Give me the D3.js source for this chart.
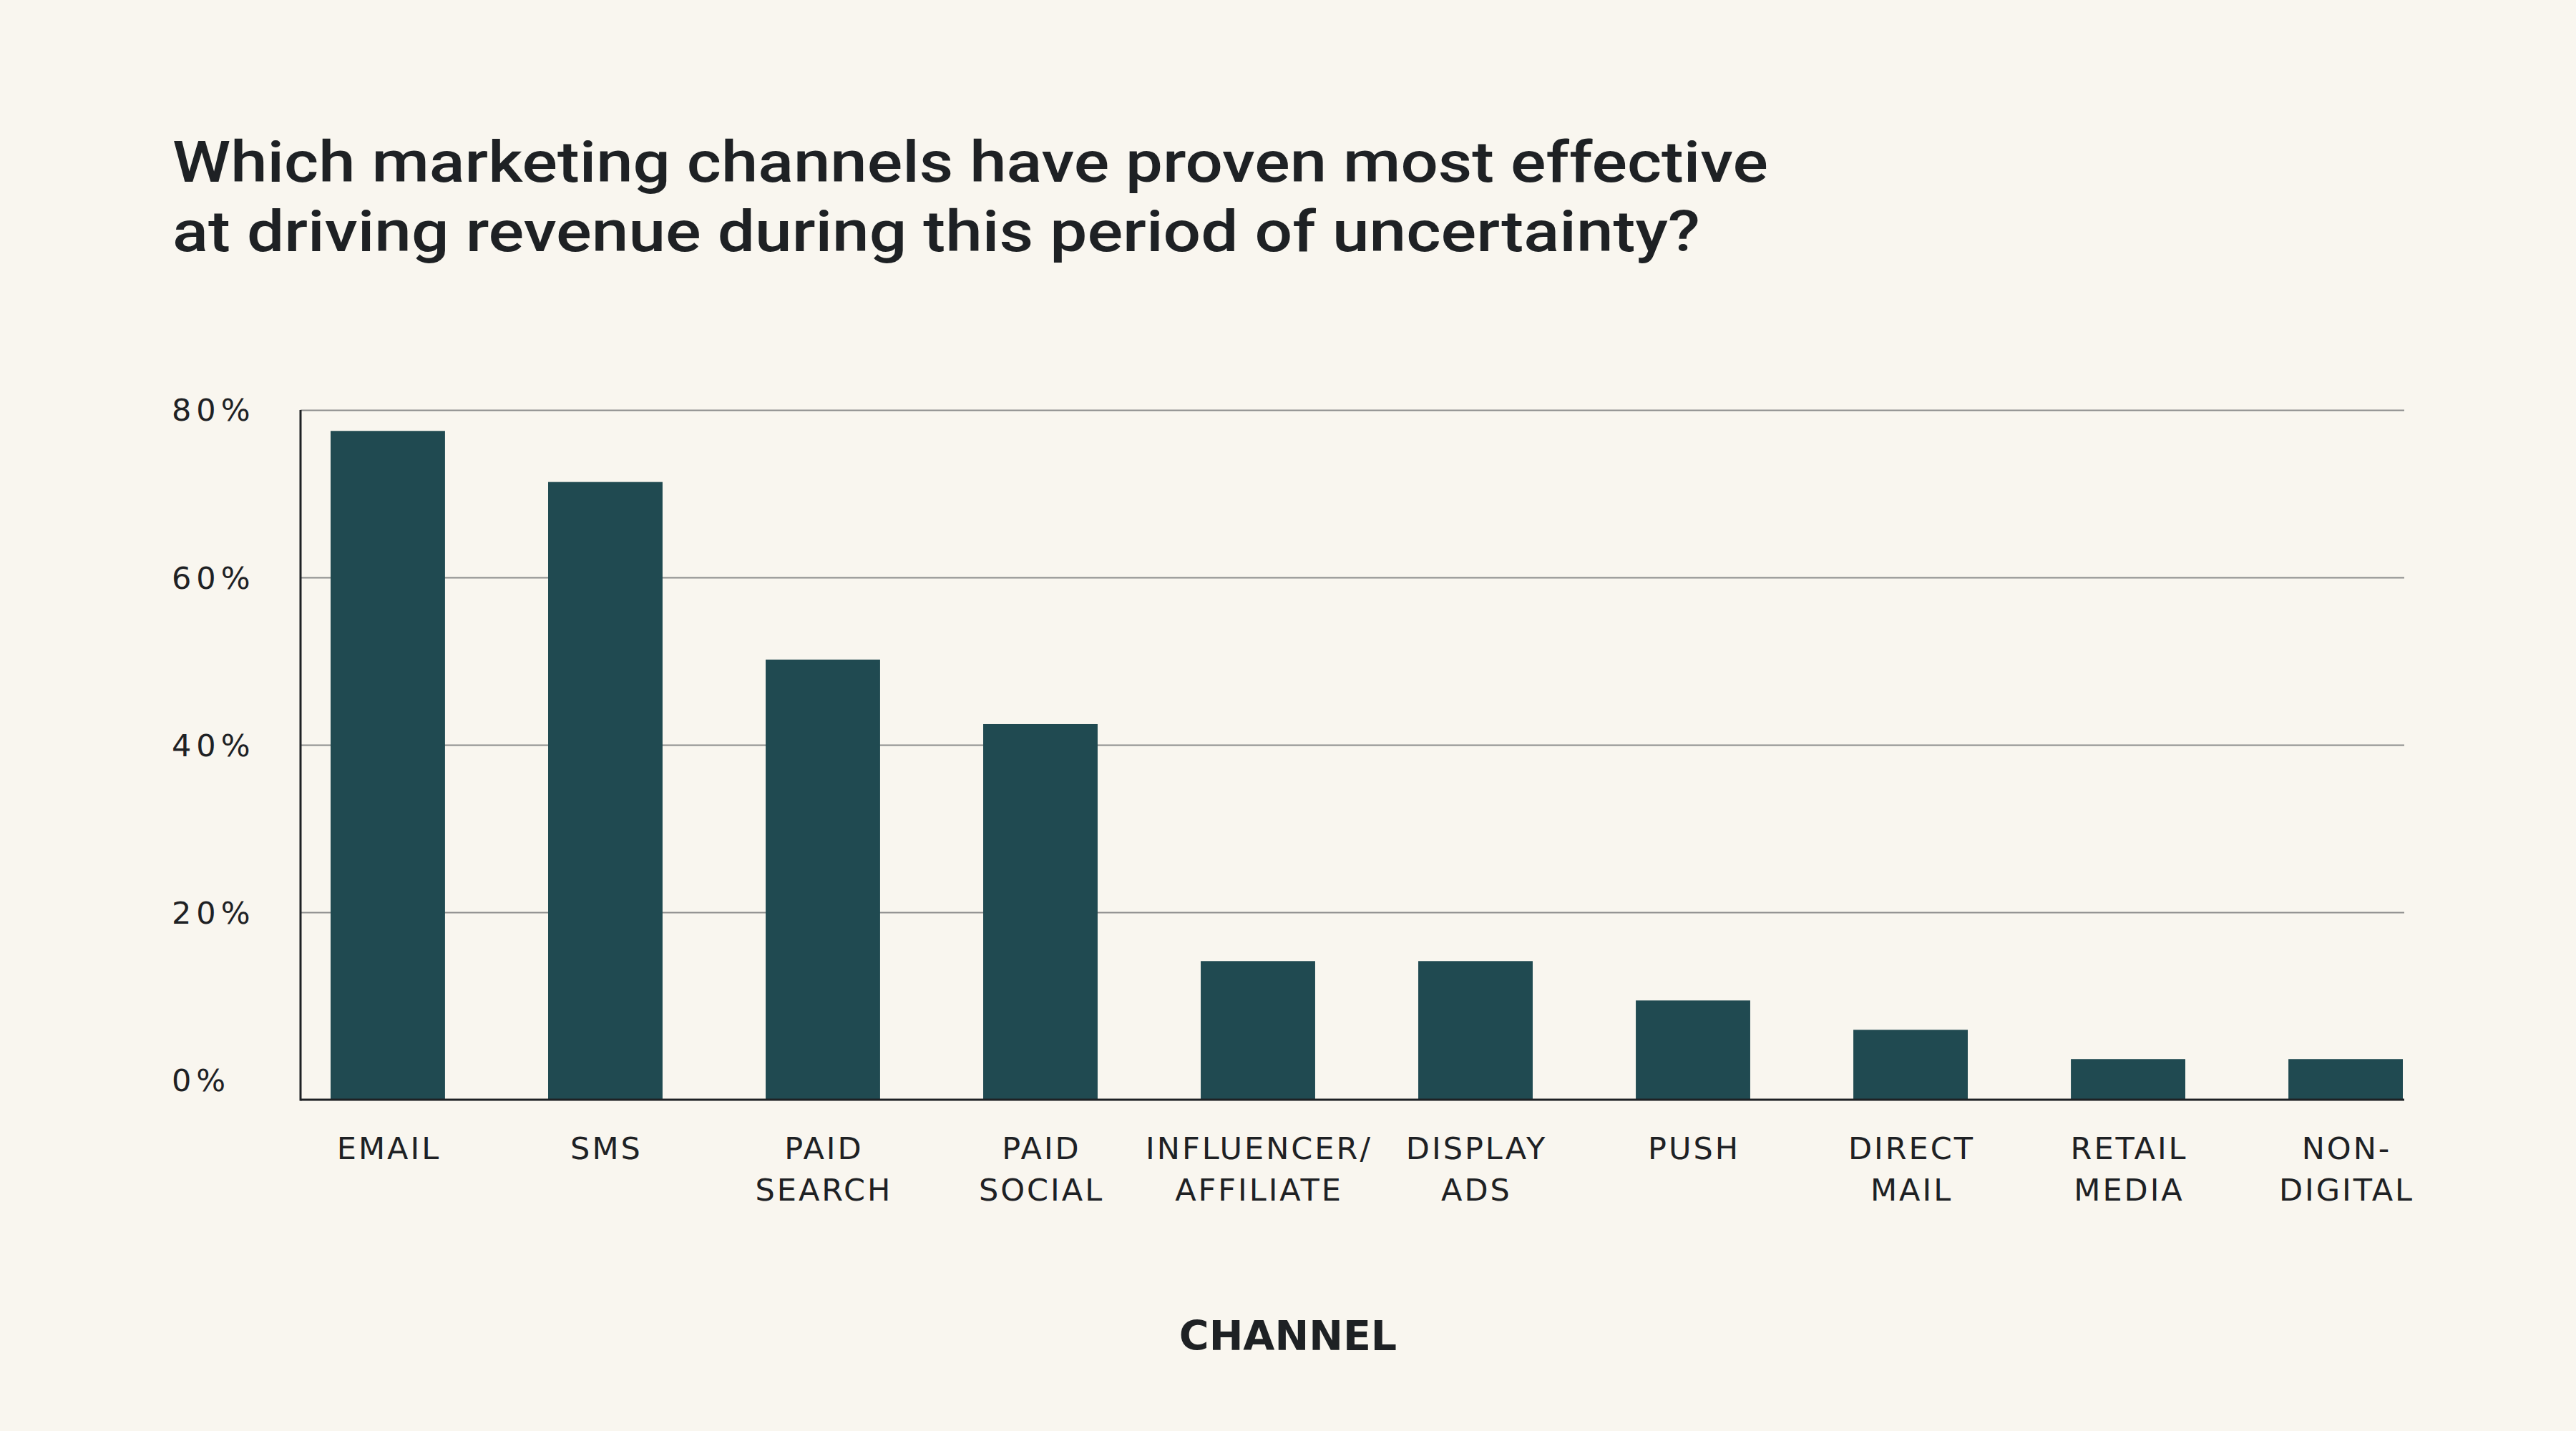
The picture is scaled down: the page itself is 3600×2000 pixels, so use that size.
<!DOCTYPE html>
<html lang="en">
<head>
  <meta charset="UTF-8">
  <title>Marketing Channels Bar Chart</title>
  <script src="https://d3js.org/d3.v7.min.js"></script>
  <style>
    body {
      margin: 0;
      background-color: #f9f6ef;
    }
    svg {
      display: block;
      font-family: Roboto, "Noto Sans", sans-serif;
    }
    .grid line {
      stroke: #8c8c8c;
      stroke-width: 2px;
    }
    .axis-line {
      stroke: #1e2124;
      stroke-width: 3px;
    }
    .tick-label, .cat-label {
      fill: #1e2124;
      font-family: "DejaVu Sans", sans-serif;
      font-size: 43px;
    }
    .tick-label {
      letter-spacing: 7px;
    }
    .cat-label {
      letter-spacing: 3px;
    }
  </style>
</head>
<body>
  <svg id="chart" width="3600" height="2000"></svg>

  <script>
    // Data
    const channels = ["EMAIL", "SMS", "PAID SEARCH", "PAID SOCIAL", "INFLUENCER/ AFFILIATE",
                      "DISPLAY ADS", "PUSH", "DIRECT MAIL", "RETAIL MEDIA", "NON- DIGITAL"];
    const labelLines = [["EMAIL"], ["SMS"], ["PAID", "SEARCH"], ["PAID", "SOCIAL"],
                        ["INFLUENCER/", "AFFILIATE"], ["DISPLAY", "ADS"], ["PUSH"],
                        ["DIRECT", "MAIL"], ["RETAIL", "MEDIA"], ["NON-", "DIGITAL"]];
    const shares = [77.5, 71.4, 50.2, 42.5, 14.2, 14.2, 9.5, 6.0, 2.5, 2.5];
    const yTicks = [0, 20, 40, 60, 80];
    const titleLines = ["Which marketing channels have proven most effective",
                        "at driving revenue during this period of uncertainty?"];
    const axisTitle = "CHANNEL";

    const svg = d3.select("#chart");

    // plot frame
    const plotLeft = 420, plotRight = 3360, plotTop = 573, plotBottom = 1537;
    const yMin = -2.35; // axis floor sits a little under the 0% tick

    const x = d3.scaleBand()
                .domain(channels)
                .range([462, 3358])
                .paddingInner(0.474)
                .paddingOuter(0);

    const y = d3.scaleLinear()
                .domain([yMin, 80])
                .range([plotBottom, plotTop]);

    // Title
    const titleWidths = [2230, 2135];
    svg.append("g")
       .selectAll("text")
       .data(titleLines)
       .enter().append("text")
       .attr("x", 241)
       .attr("y", (d, i) => 254 + i * 97)
       .attr("textLength", (d, i) => titleWidths[i])
       .attr("lengthAdjust", "spacingAndGlyphs")
       .style("font-size", "79px")
       .style("font-weight", 500)
       .style("fill", "#1e2124")
       .text(d => d);

    // Gridlines (no line at 0)
    svg.append("g")
       .attr("class", "grid")
       .selectAll("line")
       .data(yTicks.filter(t => t > 0))
       .enter().append("line")
       .attr("x1", plotLeft)
       .attr("x2", plotRight)
       .attr("y1", d => Math.round(y(d)) + 0.5)
       .attr("y2", d => Math.round(y(d)) + 0.5);

    // Y tick labels
    svg.append("g")
       .selectAll("text")
       .data(yTicks)
       .enter().append("text")
       .attr("class", "tick-label")
       .attr("x", 240)
       .attr("y", d => y(d))
       .attr("dy", "0.36em")
       .text(d => d + "%");

    // Bars
    svg.append("g")
       .selectAll("rect")
       .data(shares)
       .enter().append("rect")
       .attr("x", (d, i) => x(channels[i]))
       .attr("width", x.bandwidth())
       .attr("y", d => y(d))
       .attr("height", d => y(yMin) - y(d))
       .attr("fill", "#204a51");

    // Axis lines
    svg.append("line")
       .attr("class", "axis-line")
       .attr("x1", plotLeft).attr("x2", plotLeft)
       .attr("y1", plotTop).attr("y2", plotBottom + 1.5);
    svg.append("line")
       .attr("class", "axis-line")
       .attr("x1", plotLeft).attr("x2", plotRight)
       .attr("y1", plotBottom).attr("y2", plotBottom);

    // Category labels
    const cats = svg.append("g")
                    .selectAll("text")
                    .data(channels)
                    .enter().append("text")
                    .attr("class", "cat-label")
                    .attr("text-anchor", "middle")
                    .attr("x", d => x(d) + x.bandwidth() / 2 + 1.5)
                    .attr("y", 1620);
    cats.selectAll("tspan")
        .data((d, i) => labelLines[i])
        .enter().append("tspan")
        .attr("x", function() { return d3.select(this.parentNode).attr("x"); })
        .attr("dy", (d, i) => i === 0 ? 0 : 58)
        .text(d => d);

    // Axis title
    svg.append("text")
       .attr("x", 1800)
       .attr("y", 1887)
       .attr("text-anchor", "middle")
       .style("font-family", "'DejaVu Sans', sans-serif")
       .style("font-size", "57px")
       .style("font-weight", 700)
       .style("fill", "#1e2124")
       .text(axisTitle);
  </script>
</body>
</html>
